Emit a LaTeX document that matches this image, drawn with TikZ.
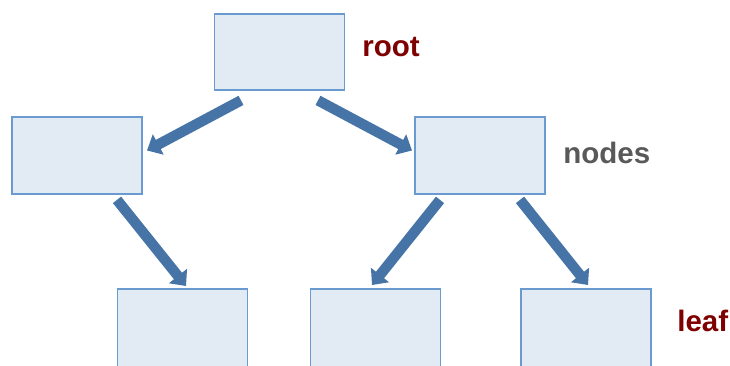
\documentclass[tikz,border=0pt]{standalone}
\usepackage{xcolor}
\usepackage{fontspec}
\setmainfont{Liberation Sans}
\usepackage{tikz}
\usetikzlibrary{shapes,arrows.meta,positioning}

\definecolor{boxfill}{HTML}{E2EAF4}
\definecolor{boxline}{HTML}{6A9BD0}
\definecolor{edgeblue}{HTML}{4674A7}
\definecolor{darkred}{HTML}{7F0000}
\definecolor{labelgray}{HTML}{595959}

\begin{document}
\begin{tikzpicture}[
    box/.style={draw=boxline, fill=boxfill, line width=1.4pt, minimum width=3.25cm, minimum height=1.92cm, inner sep=0pt},
    leafbox/.style={box, minimum height=2cm},
    tag/.style={anchor=base west, inner sep=0pt, font=\fontsize{21}{25}\selectfont\bfseries},
    edge/.style={draw=edgeblue, line width=7.4pt, -{Triangle[length=0.32cm,width=0.56cm]}}
]
    \useasboundingbox (0,0) rectangle (18.25,9.125);

    % === TREE LEVELS ===
    \node[box] (root) at (6.9875,7.825) {};
    \node[box] (left) at (1.925,5.2375) {};
    \node[box] (right) at (12.0,5.2375) {};

    \node[leafbox] (leafA) at (4.5625,0.9) {};
    \node[leafbox] (leafB) at (9.3875,0.9) {};
    \node[leafbox] (leafC) at (14.65,0.9) {};

    % === LABELS ===
    \node[tag, text=darkred] (rootlabel) at (9.05,7.7) {root};
    \node[tag, text=labelgray] (nodeslabel) at (14.075,5.025) {nodes};
    \node[tag, text=darkred] (leaflabel) at (16.925,0.825) {leaf};

    % === EDGES ===
    \draw[edge] ([xshift=-0.9625cm,yshift=-0.225cm]root.south) -- ([xshift=0.1cm,yshift=0.125cm]left.east);
    \draw[edge] ([xshift=0.9625cm,yshift=-0.225cm]root.south) -- ([xshift=-0.05cm,yshift=0.125cm]right.west);

    \draw[edge] ([xshift=1.0cm,yshift=-0.125cm]left.south) -- ([xshift=0.0875cm,yshift=0.05cm]leafA.north);
    \draw[edge] ([xshift=-1.0cm,yshift=-0.125cm]right.south) -- ([xshift=-0.0875cm,yshift=0.075cm]leafB.north);
    \draw[edge] ([xshift=1.0cm,yshift=-0.125cm]right.south) -- ([xshift=0.05cm,yshift=0.075cm]leafC.north);

\end{tikzpicture}
\end{document}
